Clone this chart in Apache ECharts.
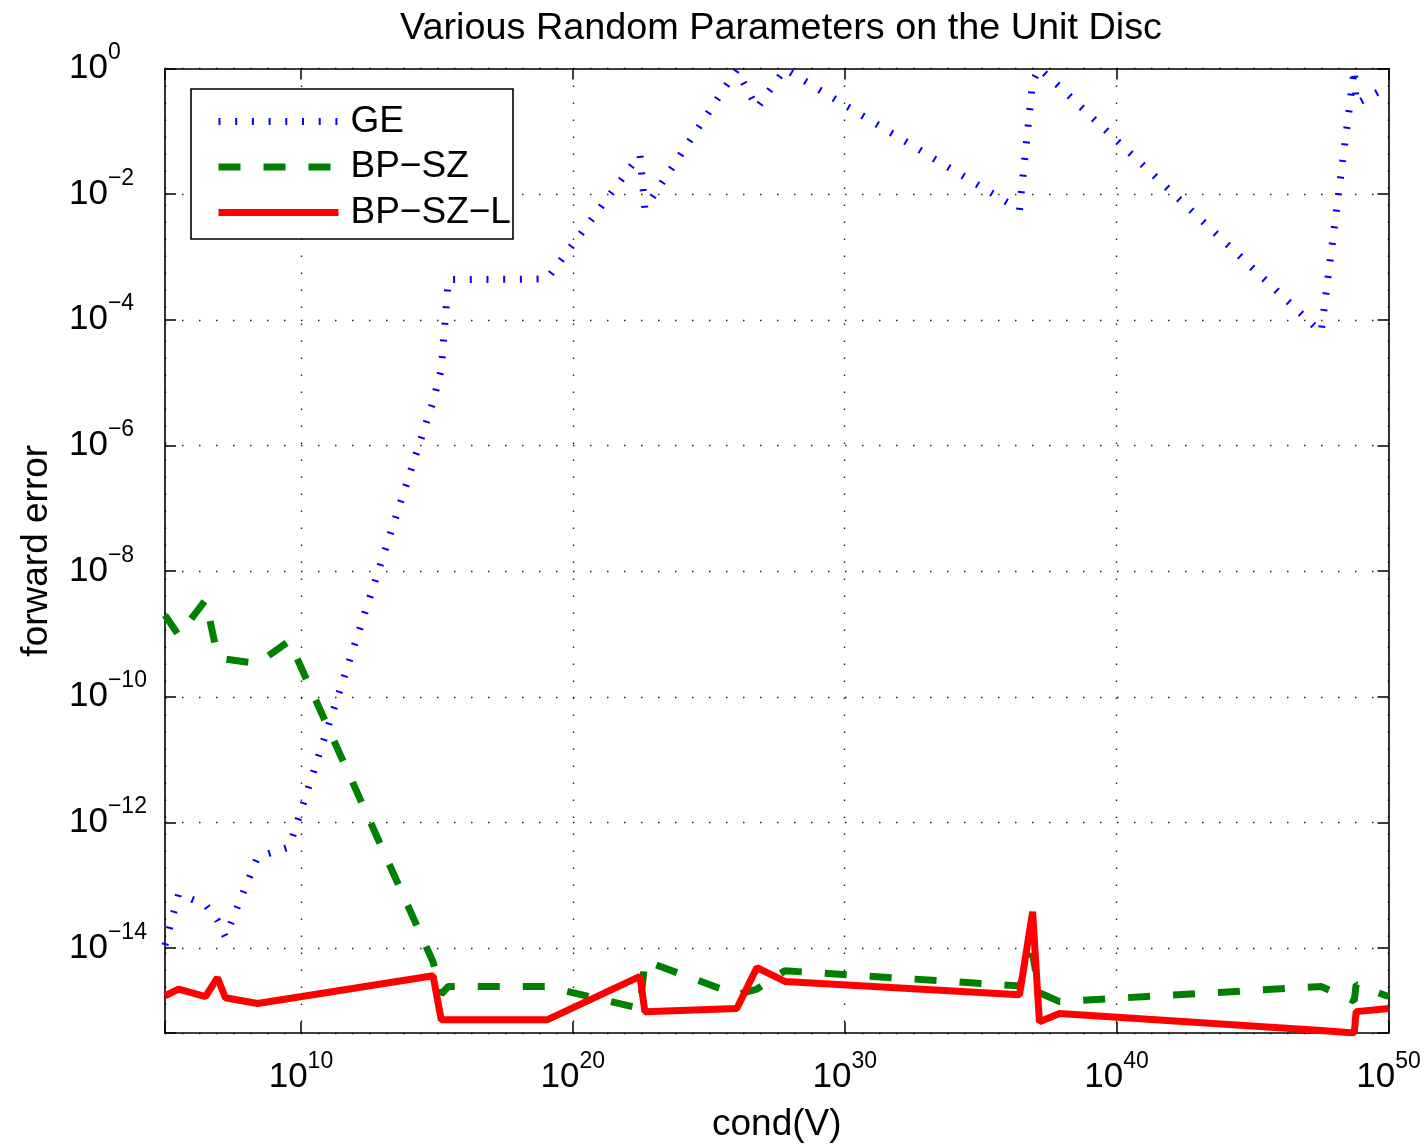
<!DOCTYPE html>
<html><head><meta charset="utf-8">
<script src="https://cdn.jsdelivr.net/npm/echarts@6/dist/echarts.min.js"></script>
<style>html,body{margin:0;padding:0;background:#fff}#c{width:1428px;height:1148px}</style>
</head><body><div id="c"></div>
<script>
// log10 of cond(V) for each test case
const condExp = [5.0, 5.50, 6.49, 6.93, 7.22, 8.40, 9.57, 14.86, 15.16, 15.42, 19.05, 22.47, 22.65, 26.03, 26.77, 27.80, 36.43, 36.91, 37.16, 37.90, 47.52, 48.74, 48.81, 50.0];
// log10 of forward error
const geExp = [-13.95, -13.14, -13.31, -13.56, -13.82, -12.55, -12.39, -5.30, -4.79, -3.36, -3.35, -1.37, -2.23, -0.02, -0.63, -0.01, -2.25, -0.21, 0.0, -0.29, -4.20, -0.01, -0.56, -0.29];
const bpszExp = [-8.70, -9.02, -8.46, -9.34, -9.40, -9.47, -9.11, -14.22, -14.73, -14.61, -14.61, -14.96, -14.20, -14.74, -14.65, -14.36, -14.60, -14.09, -14.71, -14.85, -14.61, -14.84, -14.58, -14.77];
const bpszlExp = [-14.76, -14.65, -14.77, -14.47, -14.79, -14.88, -14.80, -14.44, -15.14, -15.14, -15.14, -14.45, -15.01, -14.96, -14.31, -14.53, -14.74, -13.42, -15.17, -15.04, -15.31, -15.35, -15.01, -14.96];
const seriesNames = ['GE', 'BP\u2212SZ', 'BP\u2212SZ\u2212L'];
const xTickExps = [10, 20, 30, 40, 50];
const yTickExps = [0, -2, -4, -6, -8, -10, -12, -14];
const titleText = 'Various Random Parameters on the Unit Disc';
const xName = 'cond(V)';
const yName = 'forward error';

const FONT = '"Liberation Sans", Arial, Helvetica, sans-serif';
const X_MIN = 5, X_MAX = 50, Y_MIN = -15.35, Y_MAX = 0;

function pair(ys) { return condExp.map((x, i) => [x, ys[i]]); }
function supLabel(list) {
  return function (v) {
    const e = Math.round(v);
    if (Math.abs(v - e) > 1e-6 || list.indexOf(e) < 0) return '';
    return '{b|10}{s|' + String(e).replace('-', '\u2212') + '}';
  };
}
const rich = {
  b: { fontSize: 35, lineHeight: 55, fontFamily: FONT, color: '#000' },
  s: { fontSize: 23, lineHeight: 23, verticalAlign: 'top', fontFamily: FONT, color: '#000' }
};
const frameLine = { show: true, onZero: false, lineStyle: { color: '#000', width: 1.6 } };
const tick = { show: true, inside: true, length: 11, lineStyle: { color: '#000', width: 1.5 } };
const grid = { show: true, lineStyle: { type: [1.5, 15.5], color: '#222', width: 1.4 } };

const chart = echarts.init(document.getElementById('c'), null, { renderer: 'canvas' });
chart.setOption({
  animation: false,
  backgroundColor: '#fff',
  grid: { left: 165, right: 39.5, top: 68.5, bottom: 113.7, containLabel: false },
  xAxis: [
    { type: 'value', min: X_MIN, max: X_MAX, splitNumber: 5, position: 'bottom',
      axisLine: frameLine, axisTick: tick, splitLine: grid,
      axisLabel: { margin: 17, formatter: supLabel(xTickExps), rich: rich },
      name: xName, nameLocation: 'middle', nameGap: 73,
      nameTextStyle: { fontSize: 37, color: '#000', fontFamily: FONT } },
    { type: 'value', min: X_MIN, max: X_MAX, splitNumber: 5, position: 'top',
      axisLine: frameLine, axisTick: tick, splitLine: { show: false },
      axisLabel: { show: false } }
  ],
  yAxis: [
    { type: 'value', min: Y_MIN, max: Y_MAX, splitNumber: 8, position: 'left',
      axisLine: frameLine, axisTick: tick, splitLine: grid,
      axisLabel: { margin: 96, align: 'left', formatter: supLabel(yTickExps), rich: rich },
      name: yName, nameLocation: 'middle', nameGap: 110, nameRotate: 90,
      nameTextStyle: { fontSize: 37, color: '#000', fontFamily: FONT } },
    { type: 'value', min: Y_MIN, max: Y_MAX, splitNumber: 8, position: 'right',
      axisLine: frameLine, axisTick: tick, splitLine: { show: false },
      axisLabel: { show: false } }
  ],
  legend: {
    left: 215, top: 103, padding: 0, orient: 'vertical', z: 6,
    itemWidth: 120, itemHeight: 14, itemGap: 8.5,
    itemStyle: { opacity: 0 },
    lineStyle: { width: 7 },
    textStyle: { fontSize: 37, lineHeight: 36, fontFamily: FONT, color: '#000', padding: [0, 0, 0, 7] },
    data: seriesNames
  },
  graphic: [
    { type: 'rect', z: 5, shape: { x: 191, y: 89, width: 322, height: 150 },
      style: { fill: '#fff', stroke: '#000', lineWidth: 1.6 } },
    { type: 'text', z: 5, x: 781, y: 29,
      style: { text: titleText, align: 'center', verticalAlign: 'middle', fontSize: 37.8, fontFamily: FONT, fill: '#000' } }
  ],
  series: [
    { name: seriesNames[0], type: 'line', data: pair(geExp), symbol: 'none', clip: true,
      lineStyle: { color: '#0000ff', width: 7, type: [2, 14.7] }, itemStyle: { color: '#0000ff' } },
    { name: seriesNames[1], type: 'line', data: pair(bpszExp), symbol: 'none', clip: true,
      lineStyle: { color: '#008000', width: 7, type: [22, 23] }, itemStyle: { color: '#008000' } },
    { name: seriesNames[2], type: 'line', data: pair(bpszlExp), symbol: 'none', clip: true,
      lineStyle: { color: '#ff0000', width: 7 }, itemStyle: { color: '#ff0000' } }
  ]
});
</script></body></html>
